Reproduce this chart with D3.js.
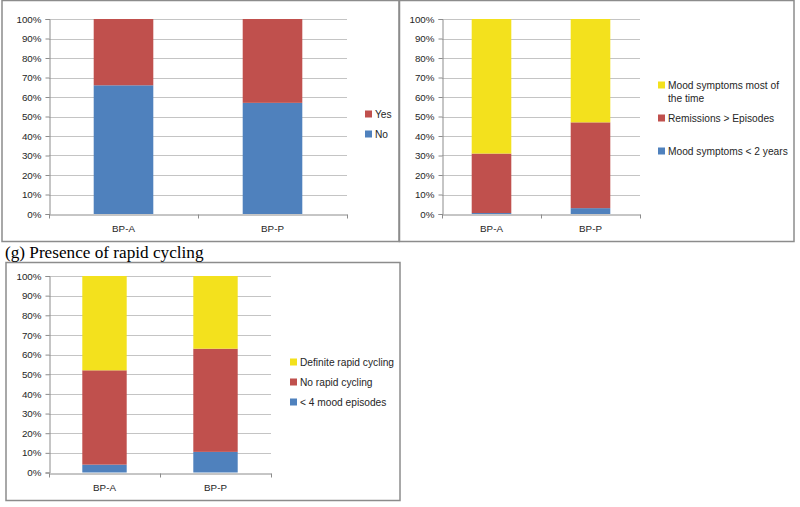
<!DOCTYPE html>
<html>
<head>
<meta charset="utf-8">
<script src="https://cdn.jsdelivr.net/npm/d3@7/dist/d3.min.js"></script>
<style>
  html, body { margin: 0; padding: 0; background: #fff; }
  svg { display: block; }
</style>
</head>
<body>
<svg id="chart" width="800" height="507"></svg>
<script>
// ---- data ----
const categories = ["BP-A", "BP-P"];
const tickValues = [0, 10, 20, 30, 40, 50, 60, 70, 80, 90, 100];
const tickLabels = ["0%", "10%", "20%", "30%", "40%", "50%", "60%", "70%", "80%", "90%", "100%"];

// panel (top-left)
const p1Names = ["No", "Yes"];
const p1No = [66, 57];
const p1Yes = [34, 43];

// panel (top-right)
const p2Names = ["Mood symptoms < 2 years", "Remissions > Episodes", "Mood symptoms most of the time"];
const p2MoodLess2 = [0.5, 3];
const p2Remissions = [30.5, 44];
const p2MoodMost = [69, 53];

// panel (g)
const p3Caption = "(g) Presence of rapid cycling";
const p3Names = ["< 4 mood episodes", "No rapid cycling", "Definite rapid cycling"];
const p3LessThan4 = [4, 10.5];
const p3NoRapid = [48, 52.5];
const p3Definite = [48, 37];

const seriesColors = ["#4f81bd", "#c0504d", "#f3e11d"];

const svg = d3.select("#chart");
const FONT = "'Liberation Sans', Arial, sans-serif";

function drawPanel(cfg) {
  const g = svg.append("g");
  // frame
  g.append("rect")
    .attr("x", cfg.frame[0]).attr("y", cfg.frame[1])
    .attr("width", cfg.frame[2]).attr("height", cfg.frame[3])
    .attr("fill", "#fff").attr("stroke", "#8c8c8c").attr("stroke-width", 1.5);

  const [px, py, pw, ph] = cfg.plot;
  const x = d3.scaleBand().domain(categories).range([px, px + pw]).paddingInner(0.6).paddingOuter(0.3);
  const xb = d3.scaleBand().domain(categories).range([px, px + pw]);
  const y = d3.scaleLinear().domain([0, 100]).range([py + ph, py]);

  // gridlines
  g.append("g").selectAll("line").data(tickValues.filter(v => v > 0)).join("line")
    .attr("x1", px).attr("x2", px + pw)
    .attr("y1", d => Math.round(y(d)) + 0.5).attr("y2", d => Math.round(y(d)) + 0.5)
    .attr("stroke", "#c4c4c4").attr("stroke-width", 1);

  // y axis
  const yAxis = d3.axisLeft(y).tickValues(tickValues)
    .tickFormat((d, i) => tickLabels[i]).tickSize(4).tickPadding(4);
  const ya = g.append("g").attr("transform", `translate(${Math.round(px) + 0.5},0)`).call(yAxis);
  ya.select(".domain").attr("stroke", "#8c8c8c");
  ya.selectAll(".tick line").attr("stroke", "#8c8c8c");
  ya.selectAll(".tick text").attr("font-family", FONT).attr("font-size", 9.8).attr("fill", "#262626");

  // x axis
  const xAxis = d3.axisBottom(xb).tickSize(0).tickPadding(11);
  const xa = g.append("g").attr("transform", `translate(0,${Math.round(py + ph) + 0.5})`).call(xAxis);
  xa.select(".domain").attr("stroke", "#8c8c8c");
  xa.selectAll(".tick text").attr("font-family", FONT).attr("font-size", 9.8).attr("fill", "#262626");
  // boundary tick marks
  const bounds = [px, px + xb.bandwidth(), px + pw];
  xa.selectAll(".bnd").data(bounds).join("line")
    .attr("x1", d => Math.round(d) + 0.5).attr("x2", d => Math.round(d) + 0.5)
    .attr("y1", 0).attr("y2", 4).attr("stroke", "#8c8c8c");

  // stacked bars
  const rows = categories.map((c, i) => {
    const r = { cat: c };
    cfg.series.forEach((s, k) => r["s" + k] = s[i]);
    return r;
  });
  const keys = cfg.series.map((s, k) => "s" + k);
  const stacked = d3.stack().keys(keys)(rows);
  g.append("g").selectAll("g").data(stacked).join("g")
    .attr("fill", (d, k) => seriesColors[k])
    .selectAll("rect").data(d => d).join("rect")
    .attr("x", d => x(d.data.cat))
    .attr("width", x.bandwidth())
    .attr("y", d => y(d[1]))
    .attr("height", d => y(d[0]) - y(d[1]));

  // legend (reverse order: top series first)
  const lg = g.append("g");
  const items = cfg.names.map((n, k) => ({ name: n, k })).reverse();
  items.forEach((it, i) => {
    const cy = cfg.legend.y[i];
    lg.append("rect")
      .attr("x", cfg.legend.x).attr("y", cy - 3.5)
      .attr("width", 7).attr("height", 7)
      .attr("fill", seriesColors[it.k]);
    const t = lg.append("text")
      .attr("x", cfg.legend.x + 10).attr("y", cy + 3.8)
      .attr("font-family", FONT).attr("font-size", 10.2).attr("fill", "#262626");
    // wrap words within legend width
    const words = it.name.split(" ");
    let line = [];
    let tspan = t.append("tspan").attr("x", cfg.legend.x + 10).attr("dy", 0);
    words.forEach(w => {
      line.push(w);
      tspan.text(line.join(" "));
      if (tspan.node().getComputedTextLength() > cfg.legend.maxW && line.length > 1) {
        line.pop();
        tspan.text(line.join(" "));
        line = [w];
        tspan = t.append("tspan").attr("x", cfg.legend.x + 10).attr("dy", 13).text(w);
      }
    });
  });

  if (cfg.caption) {
    svg.append("text").attr("x", cfg.caption.x).attr("y", cfg.caption.y)
      .attr("font-family", "'Liberation Serif', 'Times New Roman', serif")
      .attr("font-size", 17.2).attr("fill", "#000")
      .text(cfg.caption.text);
  }
}

drawPanel({
  frame: [2, 0.5, 397, 241],
  plot: [49, 19, 298, 195],
  series: [p1No, p1Yes],
  names: p1Names,
  legend: { x: 365, y: [114, 134], maxW: 200 }
});

drawPanel({
  frame: [399.5, 0.5, 394.5, 241],
  plot: [442, 19, 198, 195],
  series: [p2MoodLess2, p2Remissions, p2MoodMost],
  names: p2Names,
  legend: { x: 658, y: [85, 118, 151], maxW: 124 }
});

drawPanel({
  frame: [6, 262.5, 394, 238],
  plot: [49, 276, 222, 196.5],
  series: [p3LessThan4, p3NoRapid, p3Definite],
  names: p3Names,
  legend: { x: 290, y: [362, 382, 402], maxW: 200 },
  caption: { x: 5, y: 258, text: p3Caption }
});
</script>
</body>
</html>
